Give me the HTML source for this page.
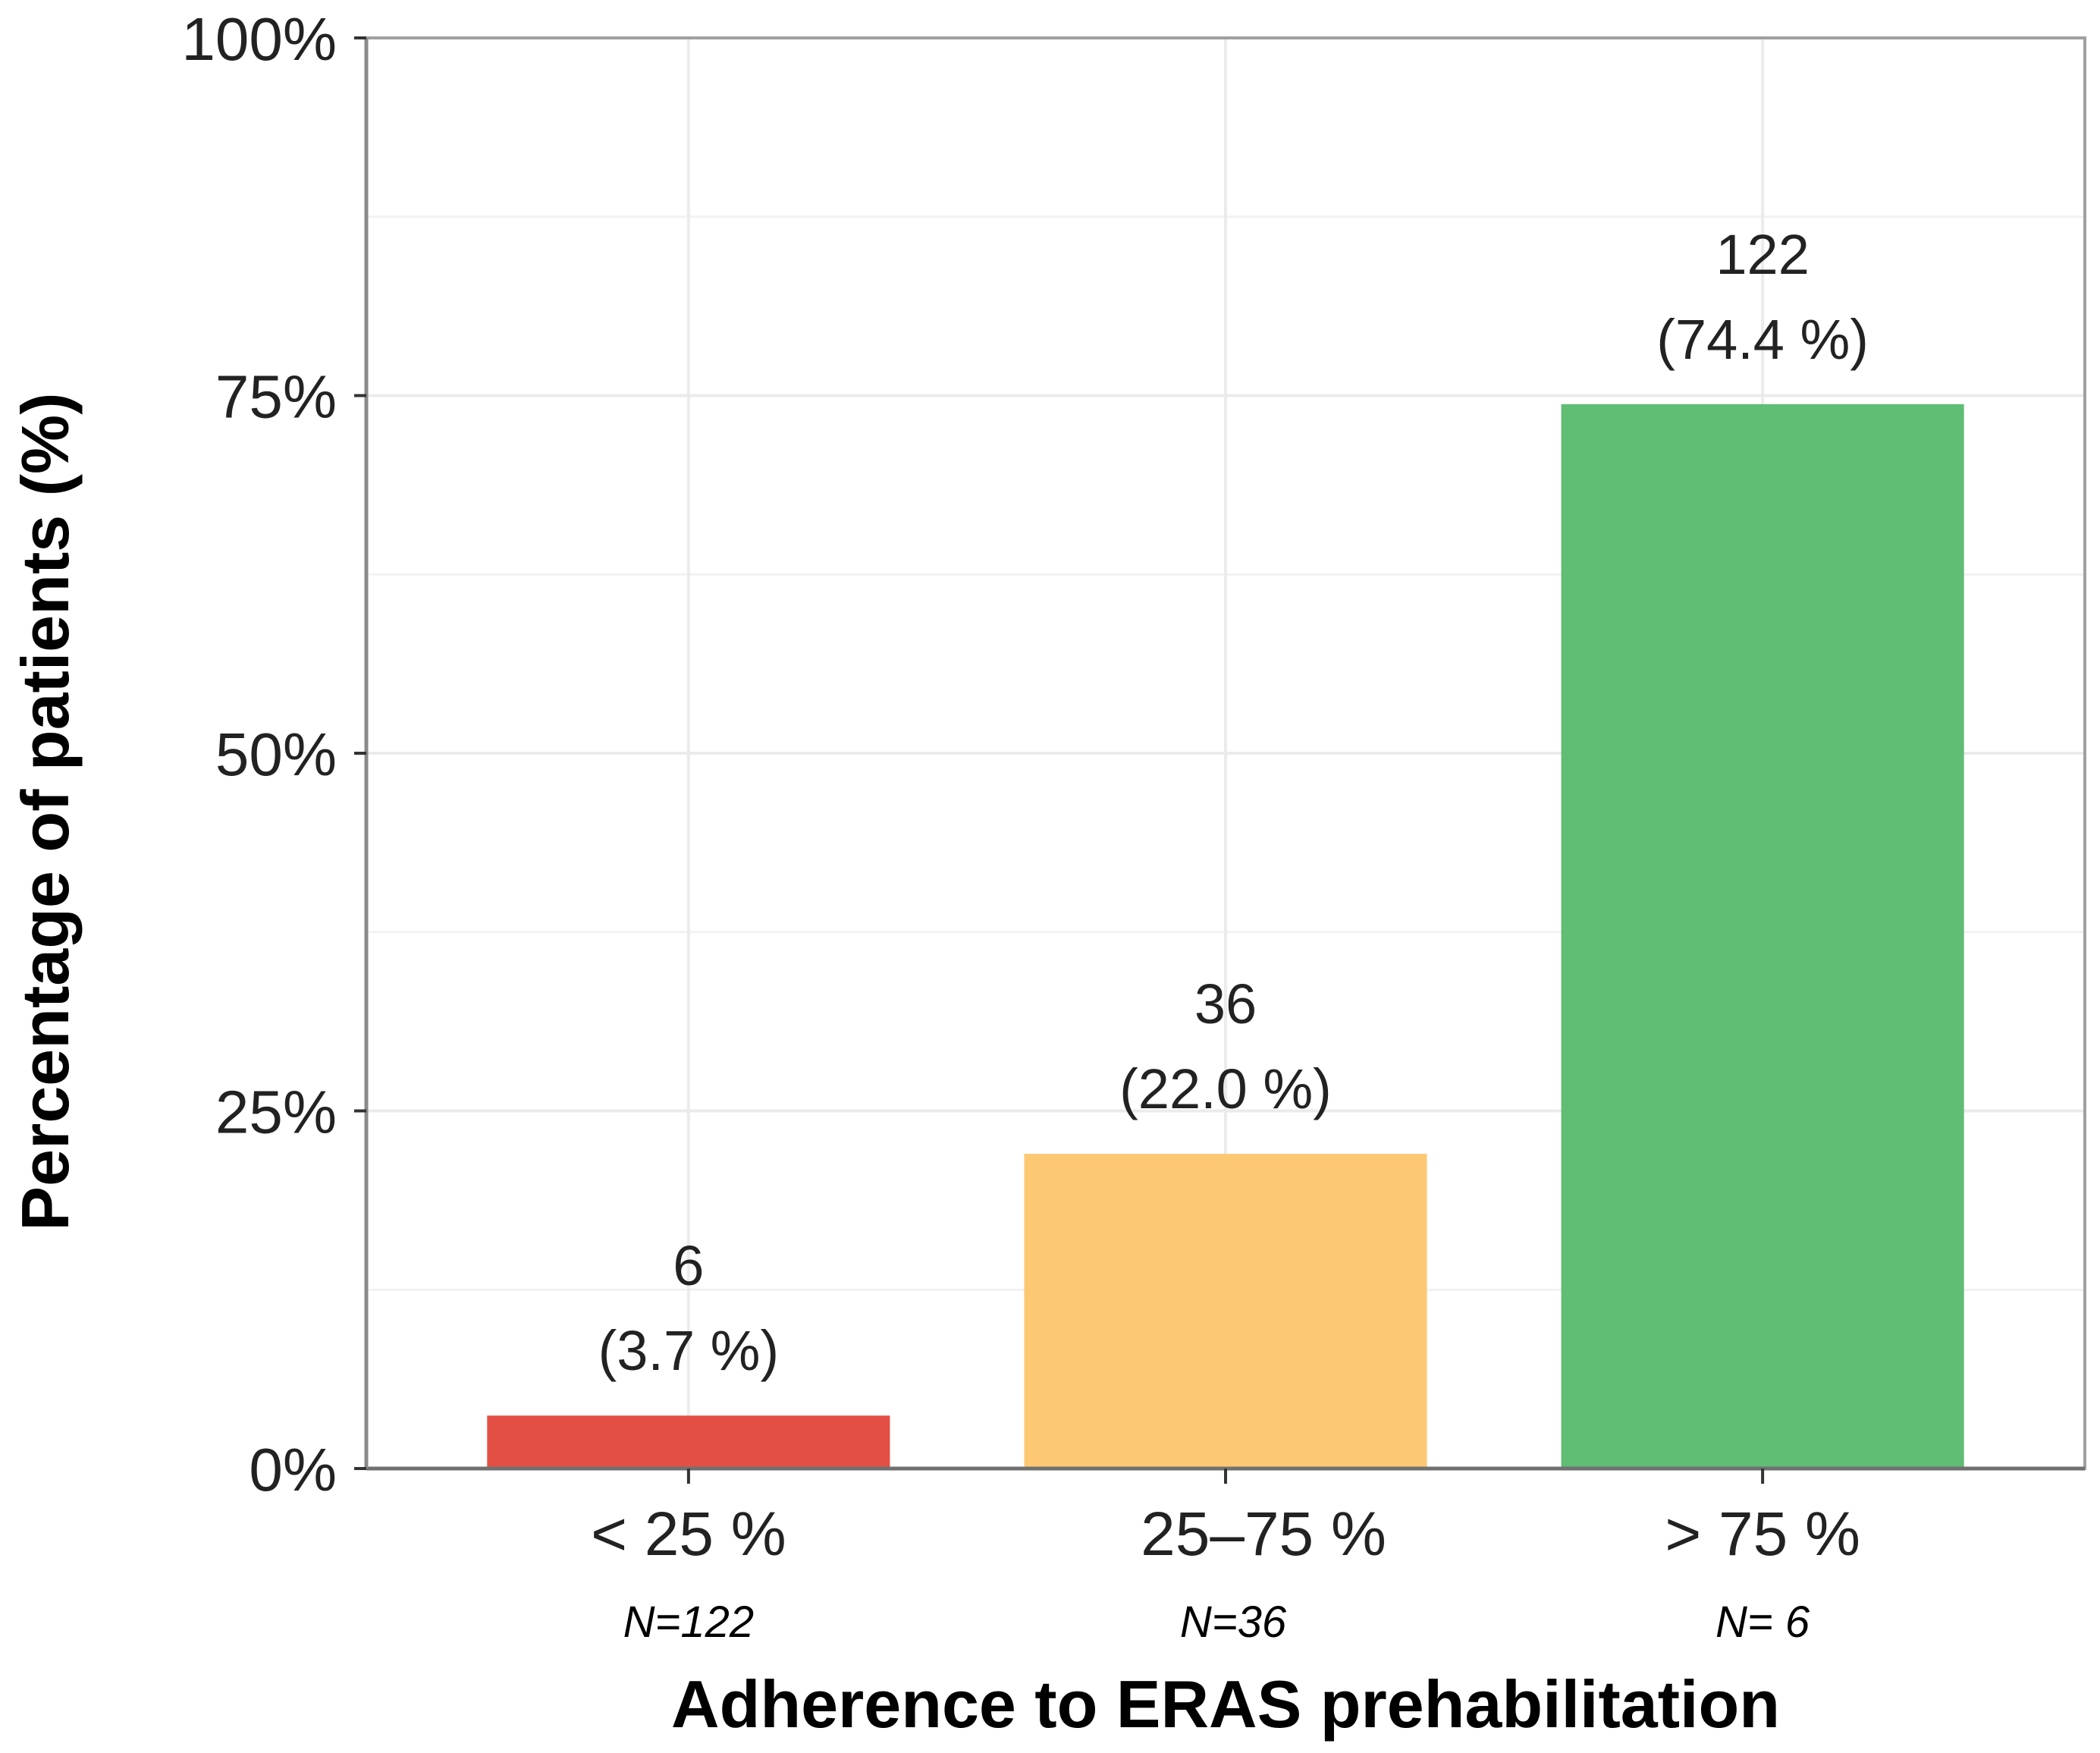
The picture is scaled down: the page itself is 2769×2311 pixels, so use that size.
<!DOCTYPE html>
<html><head><meta charset="utf-8"><style>
html,body{margin:0;padding:0;background:#fff;}
svg{display:block;font-family:"Liberation Sans",Arial,sans-serif;}
</style></head><body>
<svg id="chart" width="2769" height="2311" viewBox="0 0 2769 2311" xmlns="http://www.w3.org/2000/svg">
<g id="grid"></g>
<g id="bars"></g>
<g id="axes"></g>
<g id="labels"></g>
<text x="1616" y="2277" text-anchor="middle" font-size="88" font-weight="bold" fill="#000">Adherence to ERAS prehabilitation</text>
<text transform="translate(90,1070) rotate(-90)" text-anchor="middle" font-size="88" font-weight="bold" fill="#000">Percentage of patients (%)</text>
</svg>
<script>
const categories = ["< 25 %", "25\u201375 %", "> 75 %"];
const groupN = ["N=122", "N=36", "N= 6"];
const counts = [6, 36, 122];
const percents = [3.7, 22.0, 74.4];
const colors = ["#e34f44", "#fdc873", "#5fbd74"];
const yTicks = [0, 25, 50, 75, 100];
const yTickLabels = ["0%", "25%", "50%", "75%", "100%"];

const NS = "http://www.w3.org/2000/svg";
const L = 483, R = 2749, T = 50, B = 1936;
const unit = (R - L) / 3.2;
function xScale(i) { return L + (0.6 + i) * unit; }
function yScale(v) { return B - (v / 100) * (B - T); }
function mk(tag, attrs, parent) {
  const e = document.createElementNS(NS, tag);
  for (const k in attrs) e.setAttribute(k, attrs[k]);
  parent.appendChild(e);
  return e;
}
const grid = document.getElementById('grid');
const bars = document.getElementById('bars');
const axes = document.getElementById('axes');
const labels = document.getElementById('labels');

for (let v = 12.5; v < 100; v += 25) {
  const g = mk('line', {x1: L, x2: R, y1: yScale(v), y2: yScale(v), stroke: '#f2f2f2', 'stroke-width': 3}, grid);
  
  
}
yTicks.forEach((v) => {
  const g = mk('line', {x1: L, x2: R, y1: yScale(v), y2: yScale(v), stroke: '#ebebeb', 'stroke-width': 4}, grid);
  
  
});
categories.forEach((c, i) => {
  const g = mk('line', {x1: xScale(i), x2: xScale(i), y1: T, y2: B, stroke: '#ebebeb', 'stroke-width': 4}, grid);
  
  
});

const bw = 0.75 * unit;
percents.forEach((p, i) => {
  const r = mk('rect', {x: xScale(i) - bw / 2, y: yScale(p), width: bw, height: yScale(0) - yScale(p), fill: colors[i]}, bars);
  
  
  const t1 = mk('text', {x: xScale(i), y: yScale(p) - 172, 'text-anchor': 'middle', 'font-size': 74, fill: '#222'}, labels);
  t1.textContent = counts[i];
  
  
  const t2 = mk('text', {x: xScale(i), y: yScale(p) - 60, 'text-anchor': 'middle', 'font-size': 74, fill: '#222'}, labels);
  t2.textContent = '(' + percents[i].toFixed(1) + ' %)';
  
  
});

const border = mk('rect', {x: L, y: T, width: R - L, height: B - T, fill: 'none', stroke: '#a0a0a0', 'stroke-width': 4}, axes);


const xa = mk('line', {x1: L, x2: R, y1: B, y2: B, stroke: '#707070', 'stroke-width': 5}, axes);


const ya = mk('line', {x1: L, x2: L, y1: T, y2: B, stroke: '#8a8a8a', 'stroke-width': 5}, axes);



yTicks.forEach((v, i) => {
  const tk = mk('line', {x1: L - 16, x2: L, y1: yScale(v), y2: yScale(v), stroke: '#333', 'stroke-width': 4}, axes);
  
  
  const t = mk('text', {x: 444, y: yScale(v) + 29, 'text-anchor': 'end', 'font-size': 80, fill: '#222'}, axes);
  t.textContent = yTickLabels[i];
  
  
});
const labelShift = [0, 50, 0];
categories.forEach((c, i) => {
  const tk = mk('line', {x1: xScale(i), x2: xScale(i), y1: B, y2: B + 20, stroke: '#333', 'stroke-width': 4}, axes);
  
  
  const t = mk('text', {x: xScale(i) + labelShift[i], y: 2050, 'text-anchor': 'middle', 'font-size': 82, fill: '#222'}, axes);
  t.textContent = c;
  
  
  const n = mk('text', {x: xScale(i) + (i === 1 ? 10 : 0), y: 2158, 'text-anchor': 'middle', 'font-size': 58, 'font-style': 'italic', fill: '#000'}, axes);
  n.textContent = groupN[i];
  
  
});
</script>
</body></html>
